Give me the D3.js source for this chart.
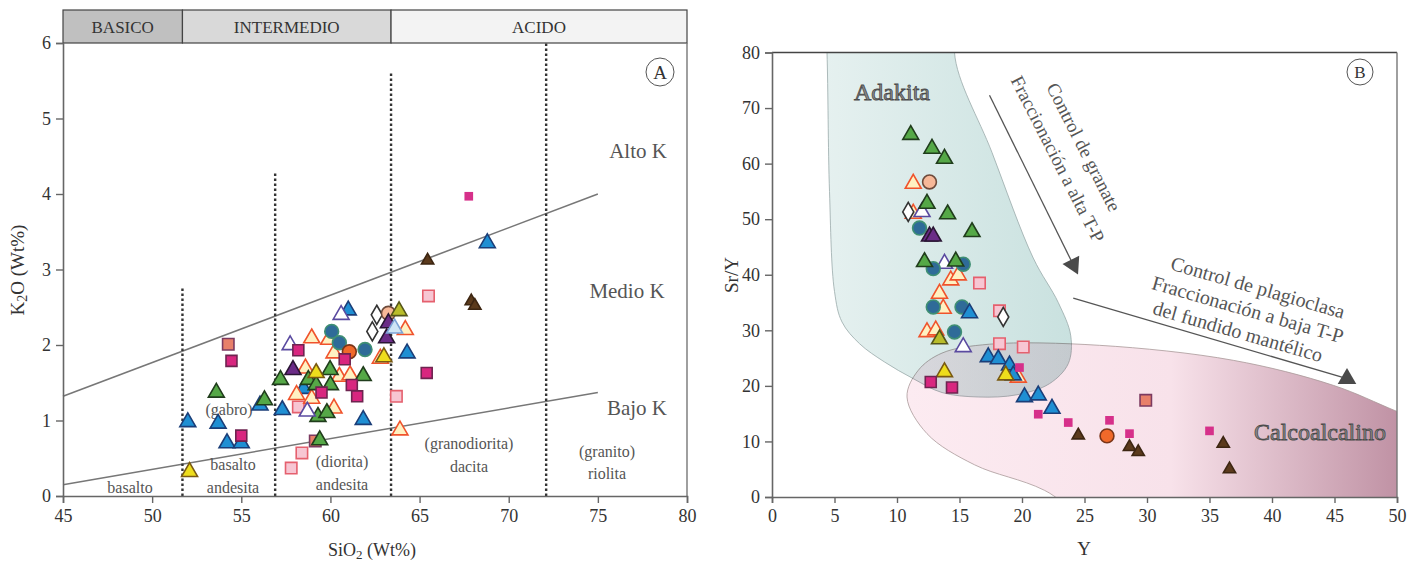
<!DOCTYPE html>
<html>
<head>
<meta charset="utf-8">
<script src="https://cdn.jsdelivr.net/npm/d3@7"></script>
<style>
  body { margin: 0; background: #fff; }
  svg { display: block; font-family: "Liberation Serif", "DejaVu Serif", serif; }
</style>
</head>
<body>
<svg id="chart" width="1422" height="569"></svg>
<script>
// ---------- panel A : K2O vs SiO2 ----------
const aTicksX = [45, 50, 55, 60, 65, 70, 75, 80];
const aTicksY = [0, 1, 2, 3, 4, 5, 6];
const aBands = [
  { label: "BASICO", from: 45, to: 51.7 },
  { label: "INTERMEDIO", from: 51.7, to: 63.4 },
  { label: "ACIDO", from: 63.4, to: 80 }
];
// dashed dividers [SiO2, top K2O]
const aDividers = [[51.7, 2.75], [56.9, 4.3], [63.4, 5.6], [72.1, 6]];
// series boundaries [x1,y1,x2,y2]
const aHighK = [45, 1.32, 75, 4.0];
const aLowK = [45, 0.15, 75, 1.37];

const aGreenTri = [[53.6,1.37],[56.3,1.27],[57.2,1.54],[58.76,1.54],[59.2,1.47],[59.98,1.67],[60.0,1.47],[61.84,1.59],[59.3,1.05],[59.8,1.10],[59.4,0.74]];
const aBlueTri = [[52.0,0.98],[53.7,0.96],[54.2,0.70],[55.0,0.70],[56.05,1.2],[57.3,1.14],[58.5,1.42],[61.0,2.46],[61.84,1.01],[64.3,1.89],[68.8,3.35]];
const aOpenOrangeTri = [[58.95,2.09],[59.9,2.07],[60.2,1.89],[58.6,1.69],[60.5,1.58],[61.1,1.6],[58.1,1.34],[58.95,1.29],[60.2,1.16],[62.8,1.82],[64.2,2.2],[63.9,0.87]];
const aYellowTri = [[52.1,0.32],[59.2,1.63],[63.0,1.84]];
const aOliveTri = [[63.85,2.45]];
const aOpenPurpleTri = [[57.74,2.0],[60.6,2.4],[58.7,1.12]];
const aPurpleTri = [[57.9,1.67],[63.25,2.29],[63.15,2.09]];
const aLightBlueTri = [[63.6,2.22]];
const aMagentaSq = [[58.2,1.93],[60.8,1.81],[61.2,1.47],[61.5,1.32],[59.5,1.37],[54.45,1.79],[55.0,0.80],[65.4,1.63]];
const aMagentaSmall = [[67.76,3.97]];
const aPinkSq = [[58.2,1.18],[58.4,0.57],[57.8,0.37],[63.7,1.32],[65.5,2.65]];
const aSalmonSq = [[54.27,2.01],[59.15,0.73]];
const aTealCircle = [[60.07,2.18],[60.5,2.03],[61.94,1.94]];
const aOrangeCircle = [[61.06,1.91]];
const aPeachCircle = [[63.25,2.42]];
const aOpenDiamond = [[62.6,2.4],[62.35,2.18]];
const aBrownTri = [[65.45,3.12],[67.9,2.58],[68.1,2.52]];

// ---------- panel B : Sr/Y vs Y ----------
const bTicksX = [0, 5, 10, 15, 20, 25, 30, 35, 40, 45, 50];
const bTicksY = [0, 10, 20, 30, 40, 50, 60, 70, 80];
// field outlines (run past the frame, clipped to it)
const bAdakita = [[4.2,90],[15.6,90],[14.6,80],[17.6,62],[20.9,43],[22.9,35],[23.9,29],[23.7,24],[22.2,20.4],[19.6,18.4],[16.5,18],[13.6,18.8],[11.3,21.3],[9.0,24.3],[7.0,27.6],[5.6,31.5],[5.0,37],[4.6,55],[4.4,80]];
const bCalco = [[10.8,18.0],[11.7,22.8],[13.6,25.9],[17.4,27.5],[26.2,27.3],[36.9,24.6],[44.9,20.1],[50,15.4],[56,10],[57,-8],[28,-8],[21.8,1.2],[16.2,5.8],[12.4,11.4]];
const bArrowGranate = [[17.4,72.3],[24.1,41.8]];
const bArrowPlag = [[24.1,35.8],[46,21.3]];

const bGreenTri = [[11.1,65.2],[12.8,62.7],[13.8,60.9],[12.4,52.8],[14.05,50.9],[16.0,47.7],[12.2,42.3],[14.7,42.4]];
const bOpenOrangeTri = [[11.3,56.4],[11.3,51.0],[14.3,39.0],[14.9,39.9],[13.4,36.6],[13.7,33.9],[12.4,29.7],[13.1,30.0],[19.7,21.5]];
const bPeachCircle = [[12.6,56.7]];
const bOpenDiamond = [[10.9,51.3],[18.5,32.4]];
const bOpenPurpleTri = [[12.0,51.3],[13.8,42.0],[15.3,27.0]];
const bTealCircle = [[11.8,48.4],[12.9,41.1],[15.3,41.9],[12.9,34.2],[15.2,34.2],[14.6,29.7]];
const bPurpleTri = [[12.6,46.9],[12.9,46.9]];
const bPinkSq = [[16.6,38.5],[18.2,33.5],[18.2,27.6],[20.1,27.0]];
const bBlueTri = [[15.8,33.1],[17.3,25.2],[18.1,24.8],[19.0,23.7],[19.3,21.9],[20.2,18.0],[21.3,18.3],[22.4,15.9]];
const bOliveTri = [[13.4,28.4]];
const bYellowTri = [[13.8,22.5],[18.7,21.9]];
const bMagentaSq = [[12.7,20.7],[14.4,19.7]];
const bMagentaSmall = [[19.8,23.3],[21.3,14.9],[23.7,13.4],[27.0,13.8],[28.6,11.4],[35.0,11.9]];
const bSalmonSq = [[29.9,17.4]];
const bOrangeCircle = [[26.8,11.0]];
const bBrownTri = [[24.5,11.1],[28.6,9.0],[29.3,8.1],[36.1,9.6],[36.6,5.0]];

// marker looks
const sym = {
  greenTri:     { type: d3.symbolTriangle, size: 110, fill: "#55a847", stroke: "#203d1c" },
  blueTri:      { type: d3.symbolTriangle, size: 110, fill: "#1f8fd3", stroke: "#1b3e78" },
  openOrangeTri:{ type: d3.symbolTriangle, size: 110, fill: "#fff1c2", stroke: "#f0532c" },
  yellowTri:    { type: d3.symbolTriangle, size: 110, fill: "#eedd1c", stroke: "#7a5a12" },
  oliveTri:     { type: d3.symbolTriangle, size: 110, fill: "#b9bd2a", stroke: "#55561a" },
  openPurpleTri:{ type: d3.symbolTriangle, size: 110, fill: "#ffffff", stroke: "#5a4aa0" },
  purpleTri:    { type: d3.symbolTriangle, size: 110, fill: "#6b2c87", stroke: "#2a1634" },
  lightBlueTri: { type: d3.symbolTriangle, size: 110, fill: "#cfe5f5", stroke: "#7da4d6" },
  brownTri:     { type: d3.symbolTriangle, size: 65, fill: "#5b3a1c", stroke: "#3d2612" },
  magentaSq:    { type: d3.symbolSquare, size: 120, fill: "#d8267f", stroke: "#6e2450" },
  magentaSmall: { type: d3.symbolSquare, size: 75, fill: "#d6308a", stroke: "none" },
  pinkSq:       { type: d3.symbolSquare, size: 130, fill: "#f7c6d3", stroke: "#e5606e" },
  salmonSq:     { type: d3.symbolSquare, size: 130, fill: "#e8806a", stroke: "#7c3a60" },
  tealCircle:   { type: d3.symbolCircle, size: 150, fill: "#2f6b98", stroke: "#3f8f73" },
  orangeCircle: { type: d3.symbolCircle, size: 150, fill: "#f0692a", stroke: "#7b3518" },
  peachCircle:  { type: d3.symbolCircle, size: 150, fill: "#f7b898", stroke: "#6e4a3a" },
  openDiamond:  { type: d3.symbolDiamond, size: 105, fill: "#ffffff", stroke: "#333333" }
};

const svg = d3.select("#chart");
svg.append("rect").attr("width", 1422).attr("height", 569).attr("fill", "#fff");
const defs = svg.append("defs");

function drawPts(g, data, s, sx, sy) {
  g.selectAll(null).data(data).enter().append("path")
    .attr("d", d3.symbol().type(s.type).size(s.size))
    .attr("transform", d => `translate(${sx(d[0])},${sy(d[1])})`)
    .attr("fill", s.fill)
    .attr("stroke", s.stroke)
    .attr("stroke-width", 1.6);
}

function axisStyle(g) {
  g.select(".domain").attr("stroke", "#666").attr("stroke-width", 1.6);
  g.selectAll(".tick line").attr("stroke", "#666").attr("stroke-width", 1.4);
  g.selectAll(".tick text").attr("fill", "#333").attr("font-size", 18)
    .attr("font-family", "Liberation Serif");
}

// ================= PANEL A =================
const ax = d3.scaleLinear().domain([45, 80]).range([63, 687]);
const ay = d3.scaleLinear().domain([0, 6]).range([496, 43]);
const gA = svg.append("g");

// header bands
const bandFill = ["#c0c0c0", "#d9d9d9", "#f3f3f3"];
aBands.forEach((b, i) => {
  gA.append("rect").attr("x", ax(b.from)).attr("y", 10)
    .attr("width", ax(b.to) - ax(b.from)).attr("height", 33)
    .attr("fill", bandFill[i]).attr("stroke", "#444").attr("stroke-width", 1.2);
  gA.append("text").attr("x", (ax(b.from) + ax(b.to)) / 2).attr("y", 33)
    .attr("text-anchor", "middle").attr("font-size", 17).attr("fill", "#333")
    .text(b.label);
});

// frame right side
gA.append("line").attr("x1", ax(80)).attr("x2", ax(80)).attr("y1", ay(6)).attr("y2", ay(0))
  .attr("stroke", "#777").attr("stroke-width", 1.4);

// boundary lines
[aHighK, aLowK].forEach(l => {
  gA.append("line").attr("x1", ax(l[0])).attr("y1", ay(l[1]))
    .attr("x2", ax(l[2])).attr("y2", ay(l[3]))
    .attr("stroke", "#777").attr("stroke-width", 1.6);
});

// dashed dividers
aDividers.forEach(d => {
  gA.append("line").attr("x1", ax(d[0])).attr("x2", ax(d[0]))
    .attr("y1", ay(0)).attr("y2", ay(d[1]))
    .attr("stroke", "#333").attr("stroke-width", 2.4).attr("stroke-dasharray", "2.5,2.5");
});

// axes
gA.append("g").attr("transform", `translate(0,${ay(0)})`)
  .call(d3.axisBottom(ax).tickValues(aTicksX).tickSize(7).tickPadding(6).tickFormat(d3.format("d")))
  .call(axisStyle);
gA.append("g").attr("transform", `translate(${ax(45)},0)`)
  .call(d3.axisLeft(ay).tickValues(aTicksY).tickSize(7).tickPadding(5).tickFormat(d3.format("d")))
  .call(axisStyle);

// region labels
const aLabels = [
  ["basalto", 130, 493], ["basalto", 233, 470], ["andesita", 233, 493],
  ["(gabro)", 229, 415], ["(diorita)", 342, 467], ["andesita", 342, 490],
  ["(granodiorita)", 469, 449], ["dacita", 469, 472], ["(granito)", 607, 457], ["riolita", 607, 479]
];
aLabels.forEach(l => {
  gA.append("text").attr("x", l[1]).attr("y", l[2]).attr("text-anchor", "middle")
    .attr("font-size", 16).attr("fill", "#555").text(l[0]);
});
[["Alto K", 638, 158], ["Medio K", 627, 298], ["Bajo K", 637, 415]].forEach(l => {
  gA.append("text").attr("x", l[1]).attr("y", l[2]).attr("text-anchor", "middle")
    .attr("font-size", 21).attr("fill", "#555").text(l[0]);
});

// panel letter
gA.append("circle").attr("cx", 660).attr("cy", 72).attr("r", 14).attr("fill", "#fff").attr("stroke", "#555");
gA.append("text").attr("x", 660).attr("y", 79).attr("text-anchor", "middle").attr("font-size", 19).attr("fill", "#333").text("A");

// axis titles
const tA = gA.append("text").attr("x", 372).attr("y", 556).attr("text-anchor", "middle").attr("font-size", 18).attr("fill", "#333");
tA.append("tspan").text("SiO");
tA.append("tspan").attr("font-size", 13).attr("dy", 3).text("2");
tA.append("tspan").attr("dy", -3).text(" (Wt%)");
const tAy = gA.append("text").attr("transform", "translate(24,270) rotate(-90)").attr("text-anchor", "middle").attr("font-size", 19).attr("fill", "#333");
tAy.append("tspan").text("K");
tAy.append("tspan").attr("font-size", 14).attr("dy", 3).text("2");
tAy.append("tspan").attr("dy", -3).text("O (Wt%)");

// points
drawPts(gA, aPinkSq, sym.pinkSq, ax, ay);
drawPts(gA, aSalmonSq, sym.salmonSq, ax, ay);
drawPts(gA, aBlueTri, sym.blueTri, ax, ay);
drawPts(gA, aOpenOrangeTri, sym.openOrangeTri, ax, ay);
drawPts(gA, aGreenTri, sym.greenTri, ax, ay);
drawPts(gA, aOpenPurpleTri, sym.openPurpleTri, ax, ay);
drawPts(gA, aTealCircle, sym.tealCircle, ax, ay);
drawPts(gA, aOrangeCircle, sym.orangeCircle, ax, ay);
drawPts(gA, aOpenDiamond, sym.openDiamond, ax, ay);
drawPts(gA, aPeachCircle, sym.peachCircle, ax, ay);
drawPts(gA, aPurpleTri, sym.purpleTri, ax, ay);
drawPts(gA, aLightBlueTri, sym.lightBlueTri, ax, ay);
drawPts(gA, aYellowTri, sym.yellowTri, ax, ay);
drawPts(gA, aOliveTri, sym.oliveTri, ax, ay);
drawPts(gA, aMagentaSq, sym.magentaSq, ax, ay);
drawPts(gA, aMagentaSmall, sym.magentaSmall, ax, ay);
drawPts(gA, aBrownTri, sym.brownTri, ax, ay);

// ================= PANEL B =================
const bx = d3.scaleLinear().domain([0, 50]).range([772, 1397]);
const by = d3.scaleLinear().domain([0, 80]).range([497, 52.5]);
const gB = svg.append("g");

defs.append("clipPath").attr("id", "clipB").append("rect")
  .attr("x", bx(0)).attr("y", by(80)).attr("width", bx(50) - bx(0)).attr("height", by(0) - by(80));

const gPink = defs.append("linearGradient").attr("id", "gPink").attr("x1", 0).attr("x2", 1).attr("y1", 0).attr("y2", 0);
gPink.append("stop").attr("offset", "0%").attr("stop-color", "#fcebf1");
gPink.append("stop").attr("offset", "45%").attr("stop-color", "#f8e2ea");
gPink.append("stop").attr("offset", "100%").attr("stop-color", "#a87087");
const gTeal = defs.append("linearGradient").attr("id", "gTeal").attr("x1", 0).attr("x2", 1).attr("y1", 0).attr("y2", 0);
gTeal.append("stop").attr("offset", "0%").attr("stop-color", "#e6f1f0");
gTeal.append("stop").attr("offset", "100%").attr("stop-color", "#c9e1df");

const area = d3.line().x(d => bx(d[0])).y(d => by(d[1])).curve(d3.curveCatmullRomClosed.alpha(0.5));
const fields = gB.append("g").attr("clip-path", "url(#clipB)");
fields.append("path").datum(bCalco).attr("d", area).attr("fill", "url(#gPink)").attr("stroke", "#a99").attr("stroke-width", 0.8);
fields.append("path").datum(bAdakita).attr("d", area).attr("fill", "url(#gTeal)").attr("stroke", "#9aa").attr("stroke-width", 0.8)
  .style("mix-blend-mode", "multiply");

// frame
gB.append("line").attr("x1", bx(0)).attr("x2", bx(50)).attr("y1", by(80)).attr("y2", by(80)).attr("stroke", "#444").attr("stroke-width", 1.4);
gB.append("line").attr("x1", bx(50)).attr("x2", bx(50)).attr("y1", by(80)).attr("y2", by(0)).attr("stroke", "#777").attr("stroke-width", 1.4);

gB.append("g").attr("transform", `translate(0,${by(0)})`)
  .call(d3.axisBottom(bx).tickValues(bTicksX).tickSize(6).tickPadding(6).tickFormat(d3.format("d")))
  .call(axisStyle);
gB.append("g").attr("transform", `translate(${bx(0)},0)`)
  .call(d3.axisLeft(by).tickValues(bTicksY).tickSize(7).tickPadding(5).tickFormat(d3.format("d")))
  .call(axisStyle);

// arrows
function arrow(pts, head) {
  const p0 = [bx(pts[0][0]), by(pts[0][1])], p1 = [bx(pts[1][0]), by(pts[1][1])];
  gB.append("line").attr("x1", p0[0]).attr("y1", p0[1]).attr("x2", p1[0]).attr("y2", p1[1])
    .attr("stroke", "#555").attr("stroke-width", 1.3);
  const ang = head === "up" ? 0 : Math.atan2(p1[1] - p0[1], p1[0] - p0[0]) * 180 / Math.PI + 90;
  gB.append("path").attr("d", d3.symbol().type(d3.symbolTriangle).size(150))
    .attr("transform", `translate(${p1[0]},${p1[1]}) rotate(${ang})`)
    .attr("fill", "#4a4a4a");
}
arrow(bArrowGranate, "dir");
arrow(bArrowPlag, "up");

// arrow texts
[["Control de granate", 1078, 150], ["Fraccionación a alta T-P", 1052, 162]].forEach(t => {
  gB.append("text").attr("transform", `translate(${t[1]},${t[2]}) rotate(63)`)
    .attr("text-anchor", "middle").attr("font-size", 19).attr("fill", "#555").text(t[0]);
});
[["Control de plagioclasa", 1256, 294], ["Fraccionación a baja T-P", 1246, 316], ["del fundido mantélico", 1236, 338]].forEach(t => {
  gB.append("text").attr("transform", `translate(${t[1]},${t[2]}) rotate(16)`)
    .attr("text-anchor", "middle").attr("font-size", 20).attr("fill", "#555").text(t[0]);
});

// region names
gB.append("text").attr("x", 892).attr("y", 100).attr("text-anchor", "middle").attr("font-size", 24)
  .attr("fill", "#8a8a8a").attr("stroke", "#4a4a4a").attr("stroke-width", 0.8).text("Adakita");
gB.append("text").attr("x", 1320).attr("y", 440).attr("text-anchor", "middle").attr("font-size", 24)
  .attr("fill", "#8a8a8a").attr("stroke", "#4a4a4a").attr("stroke-width", 0.8).text("Calcoalcalino");

gB.append("circle").attr("cx", 1360).attr("cy", 72).attr("r", 13).attr("fill", "#fff").attr("stroke", "#555");
gB.append("text").attr("x", 1360).attr("y", 78).attr("text-anchor", "middle").attr("font-size", 17).attr("fill", "#333").text("B");

gB.append("text").attr("x", 1084).attr("y", 555).attr("text-anchor", "middle").attr("font-size", 19).attr("fill", "#333").text("Y");
gB.append("text").attr("transform", "translate(738,275) rotate(-90)").attr("text-anchor", "middle").attr("font-size", 19).attr("fill", "#333").text("Sr/Y");

// points
drawPts(gB, bPinkSq, sym.pinkSq, bx, by);
drawPts(gB, bSalmonSq, sym.salmonSq, bx, by);
drawPts(gB, bOpenOrangeTri, sym.openOrangeTri, bx, by);
drawPts(gB, bOpenDiamond, sym.openDiamond, bx, by);
drawPts(gB, bOpenPurpleTri, sym.openPurpleTri, bx, by);
drawPts(gB, bTealCircle, sym.tealCircle, bx, by);
drawPts(gB, bGreenTri, sym.greenTri, bx, by);
drawPts(gB, bPeachCircle, sym.peachCircle, bx, by);
drawPts(gB, bPurpleTri, sym.purpleTri, bx, by);
drawPts(gB, bBlueTri, sym.blueTri, bx, by);
drawPts(gB, bOliveTri, sym.oliveTri, bx, by);
drawPts(gB, bYellowTri, sym.yellowTri, bx, by);
drawPts(gB, bMagentaSq, sym.magentaSq, bx, by);
drawPts(gB, bMagentaSmall, sym.magentaSmall, bx, by);
drawPts(gB, bOrangeCircle, sym.orangeCircle, bx, by);
drawPts(gB, bBrownTri, sym.brownTri, bx, by);
</script>
</body>
</html>
